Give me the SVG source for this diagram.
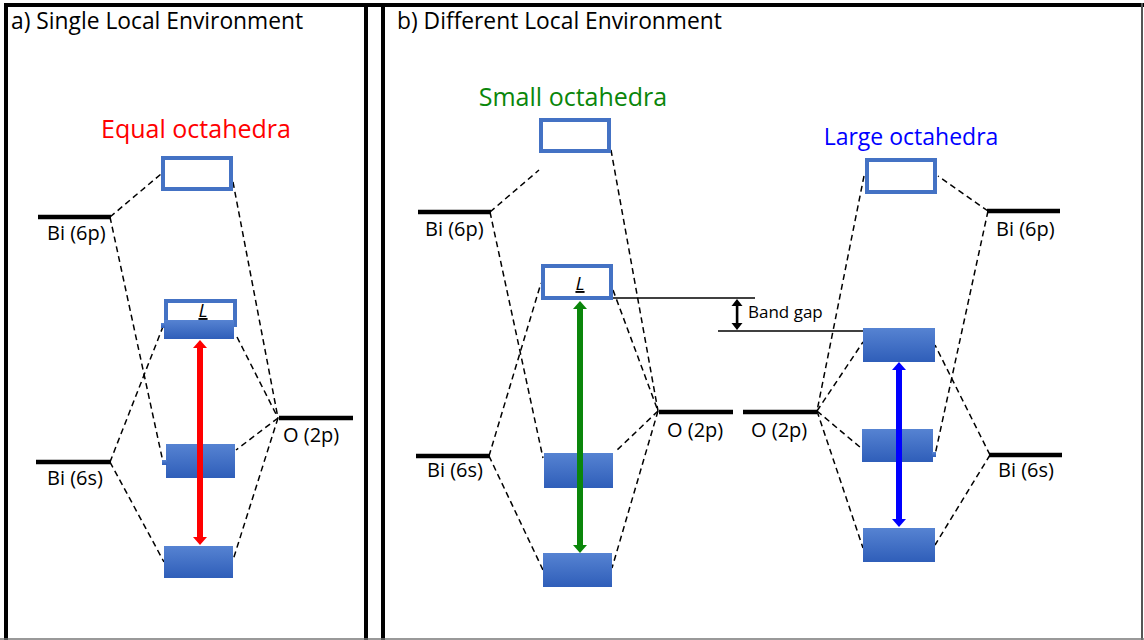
<svg xmlns="http://www.w3.org/2000/svg" width="1144" height="640" viewBox="0 0 1144 640">
<style>
text{font-family:"Open Sans","Liberation Sans",sans-serif;fill:#000}
.title{font-size:22.8px}
.lab{font-size:20px}
.head{font-size:25px;text-anchor:middle}
.lvl{stroke:#000;stroke-width:4.5;fill:none}
.dash{stroke:#000;stroke-width:1.5;stroke-dasharray:6 4;fill:none}
.obox{fill:#fff;stroke:#4472C4;stroke-width:4}
.fbox{fill:url(#g)}
.frame{stroke:#000;stroke-width:4;fill:none}
.thin{stroke:#000;stroke-width:1.3;fill:none}
.L{font-size:19px;font-style:italic;text-anchor:middle;text-decoration:underline}
</style>
<defs>
<linearGradient id="g" x1="0" y1="0" x2="0" y2="1">
<stop offset="0" stop-color="#5683D2"/>
<stop offset="1" stop-color="#2F5EB9"/>
</linearGradient>
</defs>
<rect width="1144" height="640" fill="#fff"/>
<g id="frames">
<line class="frame" x1="4" y1="5" x2="1144" y2="5"/>
<line class="frame" x1="6" y1="3" x2="6" y2="640"/>
<line class="frame" x1="366" y1="3" x2="366" y2="640"/>
<line class="frame" x1="383" y1="3" x2="383" y2="640"/>
<line x1="1142" y1="3" x2="1142" y2="640" stroke="#555" stroke-width="2"/>
<line x1="0" y1="639" x2="1144" y2="639" stroke="#777" stroke-width="1.5"/>
</g>
<text class="title" x="11" y="29">a) Single Local Environment</text>
<text class="title" x="397" y="29">b) Different Local Environment</text>
<g id="connectors">
<line class="dash" x1="110" y1="217" x2="161" y2="174"/>
<line class="dash" x1="110" y1="217" x2="163" y2="462"/>
<line class="dash" x1="110" y1="462" x2="164" y2="324"/>
<line class="dash" x1="110" y1="462" x2="164" y2="562"/>
<line class="dash" x1="233" y1="182" x2="278" y2="418"/>
<line class="dash" x1="237" y1="337" x2="278" y2="418"/>
<line class="dash" x1="278" y1="418" x2="236" y2="450"/>
<line class="dash" x1="278" y1="418" x2="233" y2="560"/>
<line class="dash" x1="490" y1="212" x2="539" y2="170"/>
<line class="dash" x1="490" y1="212" x2="543" y2="458"/>
<line class="dash" x1="489" y1="456" x2="541" y2="283"/>
<line class="dash" x1="489" y1="456" x2="543" y2="570"/>
<line class="dash" x1="611" y1="150" x2="658" y2="411"/>
<line class="dash" x1="613" y1="290" x2="658" y2="411"/>
<line class="dash" x1="658" y1="411" x2="615" y2="452"/>
<line class="dash" x1="658" y1="411" x2="612" y2="568"/>
<line class="dash" x1="864" y1="176" x2="817" y2="411"/>
<line class="dash" x1="817" y1="411" x2="863" y2="342"/>
<line class="dash" x1="817" y1="411" x2="861" y2="448"/>
<line class="dash" x1="817" y1="411" x2="863" y2="548"/>
<line class="dash" x1="988" y1="211" x2="938" y2="176"/>
<line class="dash" x1="988" y1="211" x2="935" y2="455"/>
<line class="dash" x1="990" y1="455" x2="935" y2="345"/>
<line class="dash" x1="990" y1="455" x2="935" y2="545"/>
<line class="thin" x1="611" y1="298" x2="755" y2="298"/>
<line class="thin" x1="718" y1="331" x2="865" y2="331"/>
<g id="bandgap-arrow" fill="#000">
<rect x="735.8" y="305" width="2.6" height="19"/>
<polygon points="731.5,306 737,299 742.5,306"/>
<polygon points="731.5,323 737,330 742.5,323"/>
</g>
</g>
<text x="748" y="318" style="font-size:17px">Band gap</text>

<g id="a-head"><text class="head" x="196" y="138" style="fill:#f00">Equal octahedra</text></g>
<g id="a-bi6p"><line class="lvl" x1="38" y1="217" x2="111" y2="217"/><text class="lab" x="47" y="240">Bi (6p)</text></g>
<g id="a-bi6s"><line class="lvl" x1="36" y1="462" x2="111" y2="462"/><text class="lab" x="47" y="485">Bi (6s)</text></g>
<g id="a-o2p"><line class="lvl" x1="279" y1="418" x2="353" y2="418"/><text class="lab" x="283" y="442">O (2p)</text></g>
<g id="a-top"><rect class="obox" x="163" y="158" width="68" height="31"/></g>
<g id="a-L"><rect class="obox" x="166" y="301" width="69" height="24"/><rect class="fbox" x="164" y="320" width="70" height="19"/><rect class="fbox" x="161" y="323" width="4" height="5"/><text class="L" x="203" y="317">L</text></g>
<g id="a-mid"><rect class="fbox" x="166" y="444" width="69" height="34"/><rect class="fbox" x="162" y="460" width="5" height="5"/></g>
<g id="a-bot"><rect class="fbox" x="164" y="546" width="69" height="32"/></g>
<g id="a-arrow" fill="#f00">
<rect x="197" y="347" width="6" height="191"/>
<polygon points="193,348 200,340 207,348"/>
<polygon points="193,537 200,545 207,537"/>
</g>

<g id="b-head1"><text class="head" x="573" y="106" style="fill:#0A860A">Small octahedra</text></g>
<g id="b-bi6p-l"><line class="lvl" x1="418" y1="212" x2="491" y2="212"/><text class="lab" x="425" y="236">Bi (6p)</text></g>
<g id="b-bi6s-l"><line class="lvl" x1="416" y1="456" x2="490" y2="456"/><text class="lab" x="427" y="477">Bi (6s)</text></g>
<g id="b-o2p-l"><line class="lvl" x1="659" y1="412" x2="733" y2="412"/><text class="lab" x="667" y="437">O (2p)</text></g>
<g id="b-top-l"><rect class="obox" x="541" y="120" width="68" height="31"/></g>
<g id="b-L"><rect class="obox" x="543" y="266" width="68" height="32"/><text class="L" x="580" y="290">L</text></g>
<g id="b-mid-l"><rect class="fbox" x="544" y="453" width="69" height="35"/></g>
<g id="b-bot-l"><rect class="fbox" x="543" y="553" width="69" height="34"/></g>
<g id="b-arrow-g" fill="#0A860A">
<rect x="577" y="309" width="6" height="236"/>
<polygon points="573,309 580,301 587,309"/>
<polygon points="573,545 580,553 587,545"/>
</g>

<g id="b-head2"><text class="head" x="911" y="145" style="fill:#0000FF;font-size:23px">Large octahedra</text></g>
<g id="b-o2p-r"><line class="lvl" x1="743" y1="412" x2="817" y2="412"/><text class="lab" x="751" y="437">O (2p)</text></g>
<g id="b-bi6p-r"><line class="lvl" x1="987" y1="211" x2="1060" y2="211"/><text class="lab" x="996" y="236">Bi (6p)</text></g>
<g id="b-bi6s-r"><line class="lvl" x1="989" y1="455" x2="1062" y2="455"/><text class="lab" x="998" y="477">Bi (6s)</text></g>
<g id="b-top-r"><rect class="obox" x="867" y="160" width="68" height="32"/></g>
<g id="b-vb-r"><rect class="fbox" x="863" y="328" width="72" height="34"/></g>
<g id="b-mid-r"><rect class="fbox" x="862" y="429" width="71" height="33"/><rect class="fbox" x="932" y="452" width="4" height="5"/></g>
<g id="b-bot-r"><rect class="fbox" x="863" y="528" width="72" height="34"/></g>
<g id="b-arrow-b" fill="#00f">
<rect x="896" y="370" width="6" height="149"/>
<polygon points="892,370 899,362 906,370"/>
<polygon points="892,519 899,527 906,519"/>
</g>
</svg>
